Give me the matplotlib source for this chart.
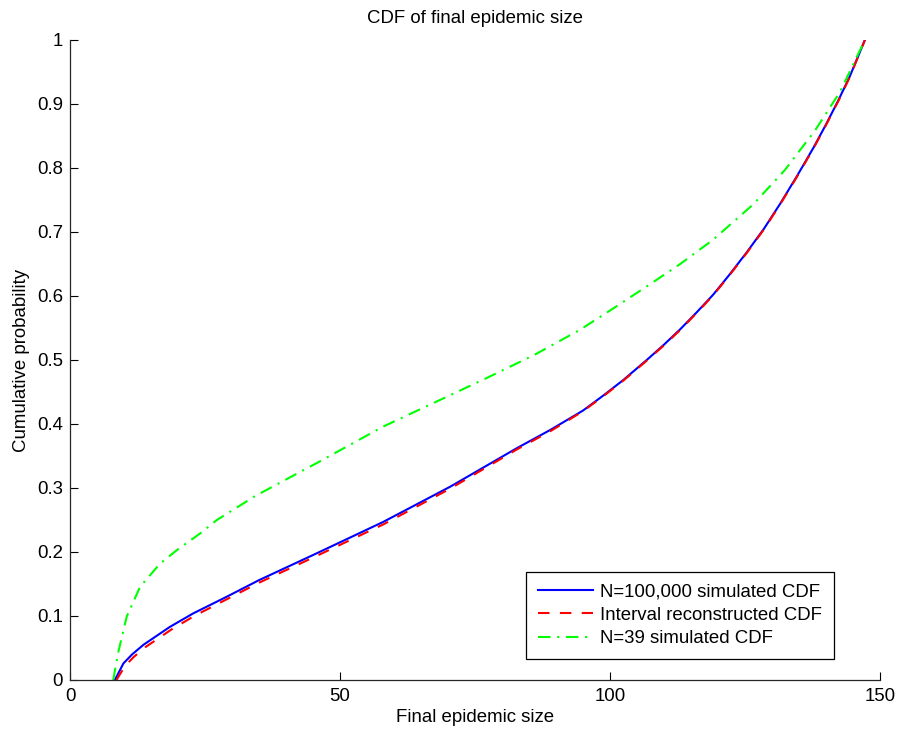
import matplotlib
matplotlib.use("Agg")
import matplotlib.pyplot as plt

# ---- data ---------------------------------------------------------------
sim_x = [8.3, 9.9, 11.5, 13.6, 18.5, 22.8, 29.0, 35.0, 45.7, 58.0, 70.4, 82.7, 89.0,
         95.0, 99.0, 102.5, 106.8, 110.0, 113.0, 116.0, 119.1, 122.0, 125.3, 128.5,
         131.5, 134.6, 137.7, 140.0, 142.3, 144.4, 147.2]
sim_y = [0.0, 0.026, 0.040, 0.055, 0.083, 0.104, 0.130, 0.156, 0.198, 0.247, 0.302,
         0.362, 0.391, 0.421, 0.446, 0.469, 0.500, 0.524, 0.548, 0.574, 0.602, 0.632,
         0.668, 0.705, 0.744, 0.787, 0.832, 0.868, 0.906, 0.943, 1.0]

rec_x = [8.6, 10.2, 11.8, 13.9, 18.8, 23.0, 29.0, 35.0, 45.7, 58.0, 70.4, 82.7, 89.0,
         95.0, 99.0, 102.5, 106.8, 110.0, 113.0, 116.0, 119.1, 122.0, 125.3, 128.5,
         131.5, 134.6, 137.7, 140.0, 142.3, 144.4, 147.2]
rec_y = [0.0, 0.022, 0.036, 0.051, 0.079, 0.100, 0.126, 0.152, 0.194, 0.243, 0.299,
         0.360, 0.389, 0.420, 0.445, 0.468, 0.499, 0.523, 0.547, 0.573, 0.601, 0.631,
         0.667, 0.704, 0.743, 0.786, 0.831, 0.867, 0.905, 0.942, 1.0]

small_x = [8.0, 8.9, 10.5, 13.0, 16.7, 19.8, 24.1, 27.2, 34.3, 45.7, 58.0, 70.4,
           77.2, 86.0, 94.4, 100.5, 106.8, 113.0, 119.1, 126.5, 132.4, 138.0, 142.6,
           146.3, 147.2]
small_y = [0.0, 0.042, 0.099, 0.146, 0.182, 0.203, 0.229, 0.250, 0.2875, 0.339, 0.396,
           0.445, 0.472, 0.508, 0.547, 0.580, 0.615, 0.650, 0.688, 0.743, 0.797, 0.859,
           0.919, 0.984, 1.0]

labels = ["N=100,000 simulated CDF", "Interval reconstructed CDF", "N=39 simulated CDF"]
xticks = [0, 50, 100, 150]
yticks = [i / 10 for i in range(11)]
ytick_labels = ["0", "0.1", "0.2", "0.3", "0.4", "0.5", "0.6", "0.7", "0.8", "0.9", "1"]

# ---- theme ---------------------------------------------------------------
plt.rcParams.update({
    "font.family": ["Liberation Sans", "DejaVu Sans"],
    "font.size": 13.4,
    "axes.linewidth": 0.9,
    "axes.edgecolor": "#262626",
    "xtick.direction": "in", "ytick.direction": "in",
    "xtick.major.size": 5.8, "ytick.major.size": 5.8,
    "xtick.major.width": 0.8, "ytick.major.width": 0.8,
    "xtick.major.pad": 6, "ytick.major.pad": 5,
})

fig = plt.figure(figsize=(8.99, 7.29), dpi=100)
ax = fig.add_axes([70 / 899, 49 / 729, 810 / 899, 640 / 729])

ax.plot(sim_x, sim_y, "-", color="#0000ff", lw=1.5, label=labels[0])
ax.plot(rec_x, rec_y, "--", color="#ff0000", lw=1.5, dashes=(5.5, 5), label=labels[1])
ax.plot(small_x, small_y, "-.", color="#00ff00", lw=1.5, dashes=(6, 3.2, 1, 3.2),
        label=labels[2])

ax.set_xlim(0, 150); ax.set_ylim(0, 1)
ax.set_xticks(xticks)
ax.set_yticks(yticks); ax.set_yticklabels(ytick_labels)
for s in ("top", "right"):
    ax.spines[s].set_visible(False)

ax.set_title("CDF of final epidemic size", fontsize=13.4, pad=12)
ax.set_xlabel("Final epidemic size", labelpad=3)
ax.set_ylabel("Cumulative probability", labelpad=5)

leg = ax.legend(loc="lower right", bbox_to_anchor=(0.943, 0.033), borderaxespad=0,
                fancybox=False, edgecolor="black", framealpha=1,
                handlelength=2.95, handletextpad=0.4, labelspacing=0.35, borderpad=0.62)
leg.get_frame().set_linewidth(0.9)

fig.savefig("out.png", dpi=100)
